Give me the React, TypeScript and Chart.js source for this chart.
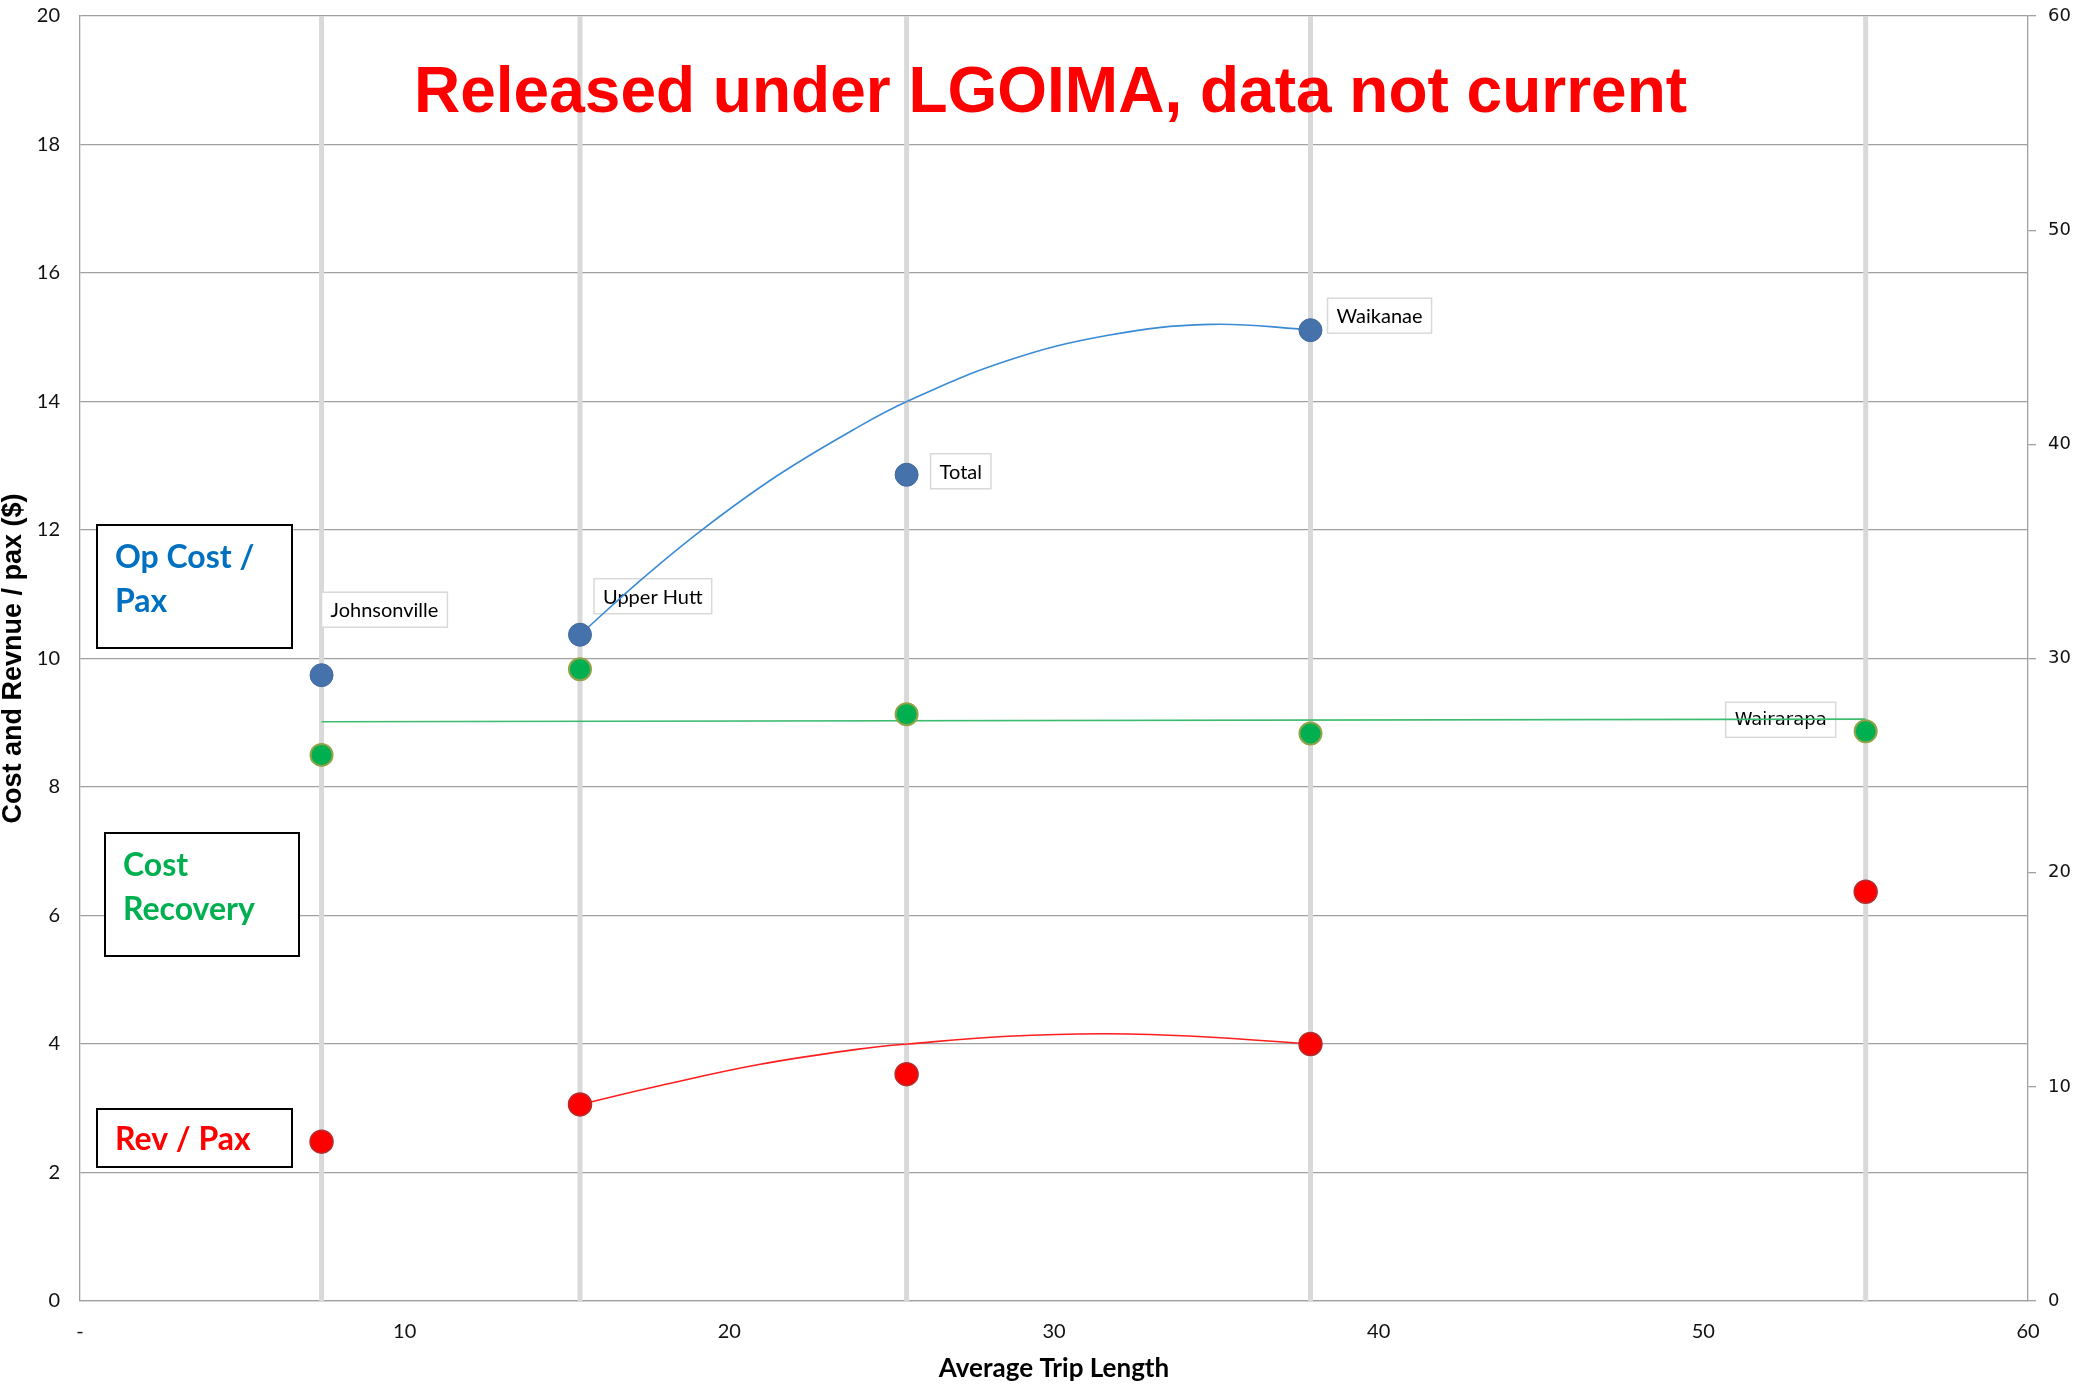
import React, { useEffect, useRef } from 'react';
import { Chart, registerables } from 'chart.js';

Chart.register(...registerables);

// ---- Data ----
const stations = ['Johnsonville', 'Upper Hutt', 'Total', 'Waikanae', 'Wairarapa'];
const tripLength = [7.44, 15.4, 25.46, 37.9, 55.0];
const opCostPerPax: (number | null)[] = [9.74, 10.37, 12.86, 15.11, null]; // Wairarapa off scale
const revPerPax = [2.48, 3.06, 3.53, 4.0, 6.37];
const costRecoveryPct = [25.5, 29.5, 27.4, 26.5, 26.6];

// Trend lines
const opCostTrendX = [15.4, 17.2, 19.1, 21.46, 23.82, 25.47, 28.53, 31.67, 34.8, 37.9];
const opCostTrendY = [10.37, 11.19, 11.98, 12.84, 13.56, 14.0, 14.63, 15.03, 15.2, 15.12];
const revTrendX = [15.4, 17.85, 20.91, 23.98, 25.5, 28.57, 31.63, 34.7, 37.89];
const revTrendY = [3.06, 3.35, 3.68, 3.92, 4.0, 4.12, 4.16, 4.11, 4.0];
const costRecTrendX = [7.44, 55.0];
const costRecTrendY = [27.05, 27.17];

// Axis ranges / ticks
const xTicks = { min: 0, max: 60, step: 10 };
const yLeftTicks = { min: 0, max: 20, step: 2 };
const yRightTicks = { min: 0, max: 60, step: 10 };

const titleText = 'Released under LGOIMA, data not current';
const xTitle = 'Average Trip Length';
const yTitle = 'Cost and Revnue / pax ($)';

// Data label placement (pixel offsets from the anchored point)
const dataLabels = [
  { station: 'Johnsonville', series: 'cost', side: 'left', dx: 0, dy: -83, font: '20px Lato' },
  { station: 'Upper Hutt', series: 'cost', side: 'left', dx: 14, dy: -56, font: '20px Lato' },
  { station: 'Total', series: 'cost', side: 'left', dx: 24, dy: -21, font: '20px Lato' },
  { station: 'Waikanae', series: 'cost', side: 'left', dx: 17, dy: -32, font: '20px Lato' },
  { station: 'Wairarapa', series: 'recovery', side: 'right', dx: -30, dy: -29, font: '18px "DejaVu Sans"' },
];

// Annotation text boxes
const noteBoxes = [
  { lines: ['Op Cost /', 'Pax'], color: '#0070C0', x: 97, y: 525, w: 195, h: 123, tx: 115, ty: [558, 602] },
  { lines: ['Cost', 'Recovery'], color: '#00B050', x: 105, y: 833, w: 194, h: 123, tx: 123, ty: [866, 910] },
  { lines: ['Rev / Pax'], color: '#FF0000', x: 97, y: 1109, w: 195, h: 58, tx: 115, ty: [1140] },
];

const W = 2081;
const H = 1389;

export default function App() {
  const ref = useRef<HTMLCanvasElement>(null);

  useEffect(() => {
    const canvas = ref.current;
    if (!canvas) return;

    const gridColor = '#A0A0A0';
    const tickColor = '#111111';

    const drawLabels = (chart: any) => {
      const ctx = chart.ctx;
      const xs = chart.scales.x;
      const ys = chart.scales.y;
      const y2 = chart.scales.y2;
      ctx.save();
      dataLabels.forEach((l) => {
        const i = stations.indexOf(l.station);
        const px = xs.getPixelForValue(tripLength[i]);
        const val = l.series === 'cost' ? opCostPerPax[i] : costRecoveryPct[i];
        if (val == null) return;
        const py = l.series === 'cost' ? ys.getPixelForValue(val) : y2.getPixelForValue(val);
        ctx.font = l.font;
        const tw = ctx.measureText(l.station).width;
        const padX = 9;
        const bw = tw + padX * 2;
        const bh = 35;
        const left = l.side === 'left' ? px + l.dx : px + l.dx - bw;
        const top = py + l.dy;
        ctx.fillStyle = '#FFFFFF';
        ctx.fillRect(left, top, bw, bh);
        ctx.strokeStyle = '#D9D9D9';
        ctx.lineWidth = 1.5;
        ctx.strokeRect(left, top, bw, bh);
        ctx.fillStyle = '#000000';
        ctx.textBaseline = 'middle';
        ctx.textAlign = 'left';
        ctx.fillText(l.station, left + padX, top + bh / 2 + 1);
      });
      ctx.restore();
    };

    const overlayPlugin = {
      id: 'overlay',
      beforeDatasetsDraw(chart: any) {
        chart.$labelsDone = false;
      },
      beforeDatasetDraw(chart: any, args: any) {
        const ds = chart.data.datasets[args.index];
        if ((ds.order ?? 0) <= 1 && !chart.$labelsDone) {
          drawLabels(chart);
          chart.$labelsDone = true;
        }
      },
      afterDraw(chart: any) {
        const ctx = chart.ctx;
        ctx.save();
        // title
        ctx.font = 'bold 64px "Liberation Sans", Arial, sans-serif';
        ctx.fillStyle = '#FF0000';
        ctx.textAlign = 'left';
        ctx.textBaseline = 'alphabetic';
        ctx.fillText(titleText, 414, 112);
        // note boxes
        noteBoxes.forEach((b) => {
          ctx.fillStyle = '#FFFFFF';
          ctx.fillRect(b.x, b.y, b.w, b.h);
          ctx.strokeStyle = '#000000';
          ctx.lineWidth = 2;
          ctx.strokeRect(b.x, b.y, b.w, b.h);
          ctx.font = 'bold 32px Lato, sans-serif';
          ctx.fillStyle = b.color;
          ctx.textBaseline = 'middle';
          b.lines.forEach((t, k) => ctx.fillText(t, b.tx, b.ty[k]));
        });
        ctx.restore();
      },
    };

    const blueData = tripLength
      .map((x, i) => ({ x, y: opCostPerPax[i] }))
      .filter((p) => p.y != null);
    const greenData = tripLength.map((x, i) => ({ x, y: costRecoveryPct[i] }));
    const redData = tripLength.map((x, i) => ({ x, y: revPerPax[i] }));

    const dropLines = tripLength.map((x) => ({
      type: 'scatter',
      data: [
        { x, y: yLeftTicks.min },
        { x, y: yLeftTicks.max },
      ],
      yAxisID: 'y',
      showLine: true,
      borderColor: '#D9D9D9',
      borderWidth: 5,
      pointRadius: 0,
      order: 2,
    }));

    const noVertPad = (s: any, w: number) => {
      s.width = w;
      s.paddingTop = 0;
      s.paddingBottom = 0;
    };

    const chart = new Chart(canvas, {
      type: 'scatter',
      data: {
        datasets: [
          {
            label: 'Op Cost / Pax',
            data: blueData,
            yAxisID: 'y',
            backgroundColor: '#4672AB',
            borderColor: '#41699E',
            borderWidth: 1,
            pointRadius: 11.5,
            order: 0,
          },
          {
            label: 'Cost Recovery',
            data: greenData,
            yAxisID: 'y2',
            backgroundColor: '#00B050',
            borderColor: '#8FA348',
            borderWidth: 2,
            pointRadius: 11,
            order: 0,
          },
          {
            label: 'Rev / Pax',
            data: redData,
            yAxisID: 'y',
            backgroundColor: '#FF0000',
            borderColor: '#B03030',
            borderWidth: 1.5,
            pointRadius: 11.5,
            order: 0,
          },
          {
            label: 'Op Cost trend',
            data: opCostTrendX.map((x, i) => ({ x, y: opCostTrendY[i] })),
            yAxisID: 'y',
            showLine: true,
            borderColor: '#3A8BD6',
            borderWidth: 1.6,
            pointRadius: 0,
            tension: 0.4,
            order: 1,
          },
          {
            label: 'Rev trend',
            data: revTrendX.map((x, i) => ({ x, y: revTrendY[i] })),
            yAxisID: 'y',
            showLine: true,
            borderColor: '#FF1E1E',
            borderWidth: 1.6,
            pointRadius: 0,
            tension: 0.4,
            order: 1,
          },
          {
            label: 'Cost Recovery trend',
            data: costRecTrendX.map((x, i) => ({ x, y: costRecTrendY[i] })),
            yAxisID: 'y2',
            showLine: true,
            borderColor: '#3DBB6E',
            borderWidth: 1.6,
            pointRadius: 0,
            order: 1,
          },
          ...(dropLines as any[]),
        ],
      },
      options: {
        responsive: false,
        animation: false,
        events: [],
        layout: { padding: { top: 16, left: 0, right: 0, bottom: 0 } },
        plugins: {
          legend: { display: false },
          tooltip: { enabled: false },
        },
        scales: {
          x: {
            type: 'linear',
            min: xTicks.min,
            max: xTicks.max,
            ticks: {
              stepSize: xTicks.step,
              padding: 19,
              color: tickColor,
              font: { family: 'Lato', size: 20 },
              callback: (v: any) => (Number(v) === 0 ? '-' : String(v)),
            },
            grid: { display: false, drawTicks: false },
            border: { display: true, color: gridColor, width: 1.3 },
            title: {
              display: true,
              text: xTitle,
              color: '#000000',
              font: { family: 'Lato', weight: 'bold', size: 26, lineHeight: 1 },
              padding: { top: 0, bottom: 7 },
            },
            afterFit: (s: any) => {
              s.height = 88;
              s.paddingLeft = 0;
              s.paddingRight = 0;
            },
          },
          y: {
            type: 'linear',
            position: 'left',
            min: yLeftTicks.min,
            max: yLeftTicks.max,
            ticks: {
              stepSize: yLeftTicks.step,
              padding: 20,
              color: tickColor,
              font: { family: 'Lato', size: 20 },
            },
            grid: { color: gridColor, lineWidth: 1.3, drawTicks: false },
            border: { display: true, color: gridColor, width: 1.3 },
            title: {
              display: true,
              text: yTitle,
              color: '#000000',
              font: { family: 'Liberation Sans', weight: 'bold', size: 27, lineHeight: 1 },
              padding: 0,
            },
            afterFit: (s: any) => noVertPad(s, 80),
          },
          y2: {
            type: 'linear',
            position: 'right',
            min: yRightTicks.min,
            max: yRightTicks.max,
            ticks: {
              stepSize: yRightTicks.step,
              padding: 12,
              color: tickColor,
              font: { family: 'DejaVu Sans', size: 18 },
            },
            grid: {
              drawOnChartArea: false,
              drawTicks: true,
              tickLength: 8,
              color: gridColor,
              lineWidth: 1.3,
            },
            border: { display: true, color: gridColor, width: 1.3 },
            afterFit: (s: any) => noVertPad(s, 53),
          },
        },
      } as any,
      plugins: [overlayPlugin],
    } as any);

    return () => {
      chart.destroy();
    };
  }, []);

  return (
    <div style={{ position: 'fixed', left: 0, top: 0, width: W, height: H, background: '#fff' }}>
      <canvas ref={ref} width={W} height={H} style={{ display: 'block', width: W, height: H }} />
    </div>
  );
}
